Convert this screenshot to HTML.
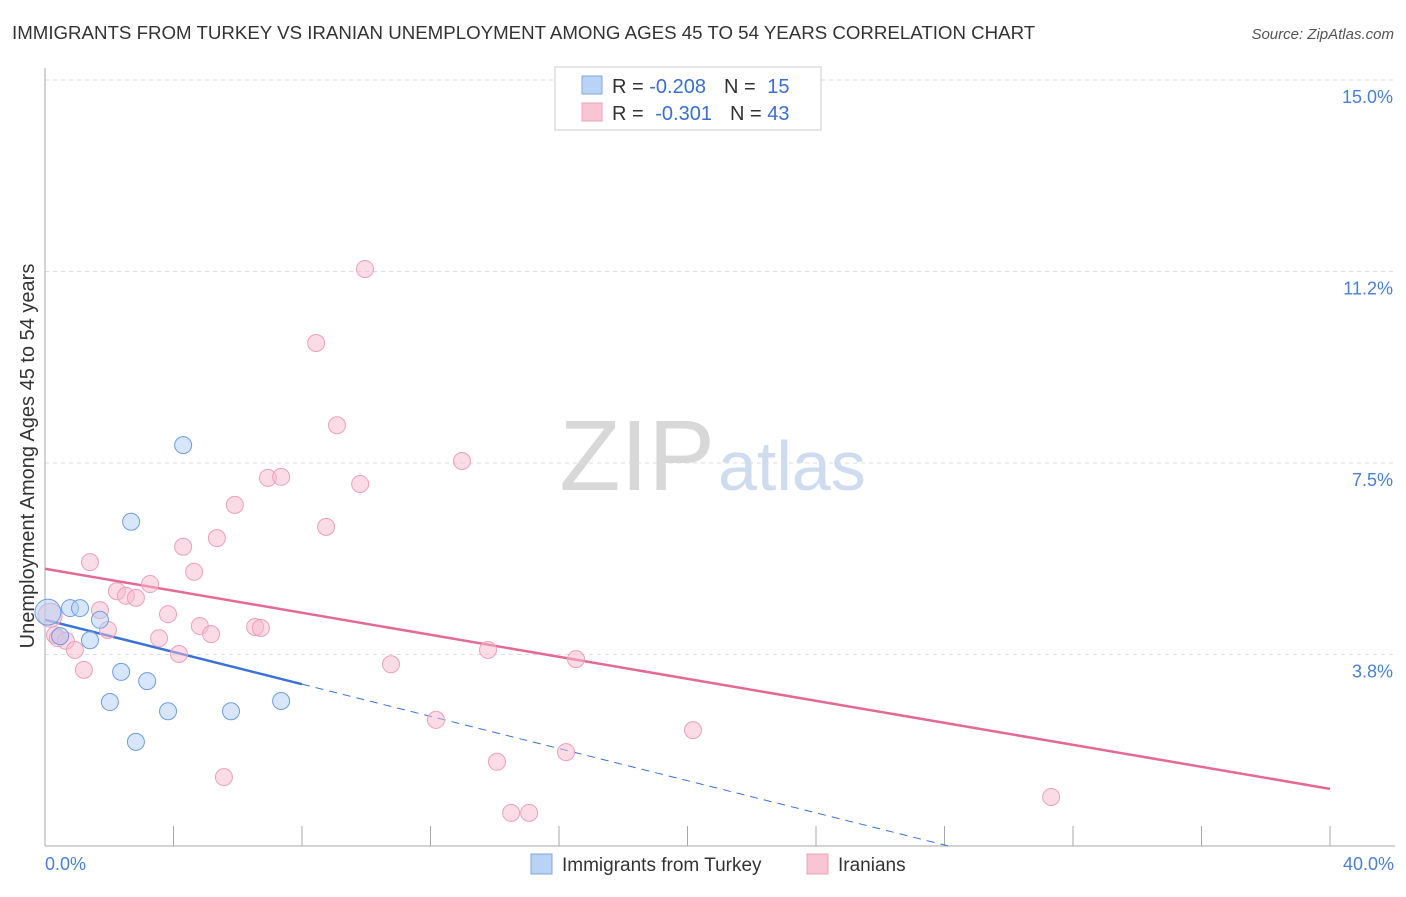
<!DOCTYPE html>
<html><head><meta charset="utf-8"><style>
body{margin:0;background:#fff;font-family:"Liberation Sans",sans-serif}
svg text{font-family:"Liberation Sans",sans-serif}
</style></head><body>
<svg width="1406" height="892">
<text x="12" y="39" font-size="18.7" fill="#333">IMMIGRANTS FROM TURKEY VS IRANIAN UNEMPLOYMENT AMONG AGES 45 TO 54 YEARS CORRELATION CHART</text>
<text x="1394" y="39" font-size="15" fill="#555" font-style="italic" text-anchor="end">Source: ZipAtlas.com</text>
<text x="715" y="490" font-size="100" fill="#d8d8d8" text-anchor="end" font-family="Liberation Serif">ZIP</text>
<text x="718" y="490" font-size="70" fill="#cfdcf0">atlas</text>
<g id="grid"></g><g id="axes"></g><g id="lines"></g><g id="pts"></g>
<text transform="translate(34,456) rotate(-90)" font-size="20" fill="#333" text-anchor="middle">Unemployment Among Ages 45 to 54 years</text>
<text x="45" y="870" font-size="18" fill="#4a7fd0">0.0%</text>
<text x="1394" y="870" font-size="18" fill="#4a7fd0" text-anchor="end">40.0%</text>
<g>
<rect x="555" y="67" width="266" height="63" fill="#fff" stroke="#ccc"/>
<rect x="582" y="76" width="20" height="18" fill="#b8d3f5" stroke="#7ea8e0"/>
<rect x="582" y="103" width="20" height="18" fill="#f9c5d5" stroke="#eea0b8"/>
<text x="612" y="93" font-size="20" fill="#333">R = <tspan fill="#3a6fd0">-0.208</tspan><tspan dx="18">N = </tspan><tspan fill="#3a6fd0" dx="6">15</tspan></text>
<text x="612" y="120" font-size="20" fill="#333">R = <tspan fill="#3a6fd0" dx="6">-0.301</tspan><tspan dx="18">N = </tspan><tspan fill="#3a6fd0">43</tspan></text>
</g>
<g>
<rect x="531" y="854" width="21" height="20" fill="#b8d3f5" stroke="#7ea8e0"/>
<text x="562" y="871" font-size="19" fill="#333">Immigrants from Turkey</text>
<rect x="807" y="854" width="21" height="20" fill="#f9c5d5" stroke="#eea0b8"/>
<text x="838" y="871" font-size="19" fill="#333">Iranians</text>
</g>
</svg>
<script>
const yTicks=[3.75,7.5,11.25,15];
const yTickLabels=["3.8%","7.5%","11.2%","15.0%"];
const xTicks=[0,4,8,12,16,20,24,28,32,36,40];
const turkeyX=[0.09,0.47,0.78,1.09,1.40,1.71,2.02,2.37,2.68,2.83,3.18,3.83,4.30,5.79,7.35];
const turkeyY=[4.58,4.11,4.66,4.66,4.03,4.43,2.82,3.41,6.35,2.04,3.23,2.64,7.85,2.64,2.84];
const iranX=[0.16,0.31,0.40,0.65,0.93,1.21,1.40,1.71,1.96,2.24,2.52,2.83,3.27,3.55,3.83,4.17,4.30,4.64,4.82,5.17,5.35,5.57,5.91,6.54,6.72,6.94,7.35,8.44,8.75,9.09,9.81,9.96,10.77,12.17,12.98,13.79,14.07,14.51,15.07,16.22,16.53,20.17,31.32];
const iranY=[4.52,4.13,4.07,4.02,3.84,3.45,5.56,4.62,4.23,4.99,4.90,4.86,5.13,4.07,4.54,3.76,5.86,5.37,4.31,4.15,6.03,1.35,6.68,4.29,4.27,7.21,7.23,9.85,6.25,8.24,7.09,11.30,3.56,2.47,7.54,3.84,1.65,0.65,0.65,1.84,3.66,2.27,0.96];
const turkeyTrend=[4.43,3.17];  // values at x=0 and x=8
const iranTrend=[5.43,1.12];   // values at x=0 and x=40
const NS="http://www.w3.org/2000/svg";
const X=v=>45+v*32.125, Y=v=>80+(15-v)*51.07;
function mk(tag,at,parent){const e=document.createElementNS(NS,tag);for(const k in at)e.setAttribute(k,at[k]);document.getElementById(parent).appendChild(e);return e;}
yTicks.forEach((t,i)=>{
 const l=mk('line',{x1:45,x2:1395,y1:Y(t),y2:Y(t),stroke:'#ddd','stroke-dasharray':'4,4'},'grid');
 
 
 const tx=mk('text',{x:1393,y:Y(t)+23,'font-size':18,fill:'#4a7fd0','text-anchor':'end'},'grid');
 tx.textContent=yTickLabels[i];
 
 
});
const ya=mk('line',{x1:45,x2:45,y1:68,y2:846,stroke:'#aaa'},'axes');


const xa=mk('line',{x1:45,x2:1395,y1:846,y2:846,stroke:'#aaa'},'axes');


xTicks.forEach(t=>{
 const l=mk('line',{x1:X(t),x2:X(t),y1:826,y2:846,stroke:'#aaa'},'axes');
 
 
});
const slopeT=(turkeyTrend[1]-turkeyTrend[0])/8;
const xEnd=-turkeyTrend[0]/slopeT;
let tl=mk('line',{x1:X(0),y1:Y(turkeyTrend[0]),x2:X(8),y2:Y(turkeyTrend[1]),stroke:'#3a72d8','stroke-width':2.5},'lines');


tl=mk('line',{x1:X(8),y1:Y(turkeyTrend[1]),x2:X(xEnd),y2:Y(0),stroke:'#3a72d8','stroke-width':1,'stroke-dasharray':'8,6'},'lines');


tl=mk('line',{x1:X(0),y1:Y(iranTrend[0]),x2:X(40),y2:Y(iranTrend[1]),stroke:'#e46a95','stroke-width':2.5},'lines');


iranX.forEach((v,i)=>{
 const c=mk('circle',{cx:X(v),cy:Y(iranY[i]),r:i==0?12:8.5,fill:'rgba(248,185,205,0.5)',stroke:'#eea0b8','stroke-width':1},'pts');
 
 
});
turkeyX.forEach((v,i)=>{
 const c=mk('circle',{cx:X(v),cy:Y(turkeyY[i]),r:i==0?13:8.5,fill:'rgba(175,205,245,0.5)',stroke:'#6f9de0','stroke-width':1},'pts');
 
 
});
</script>
</body></html>
